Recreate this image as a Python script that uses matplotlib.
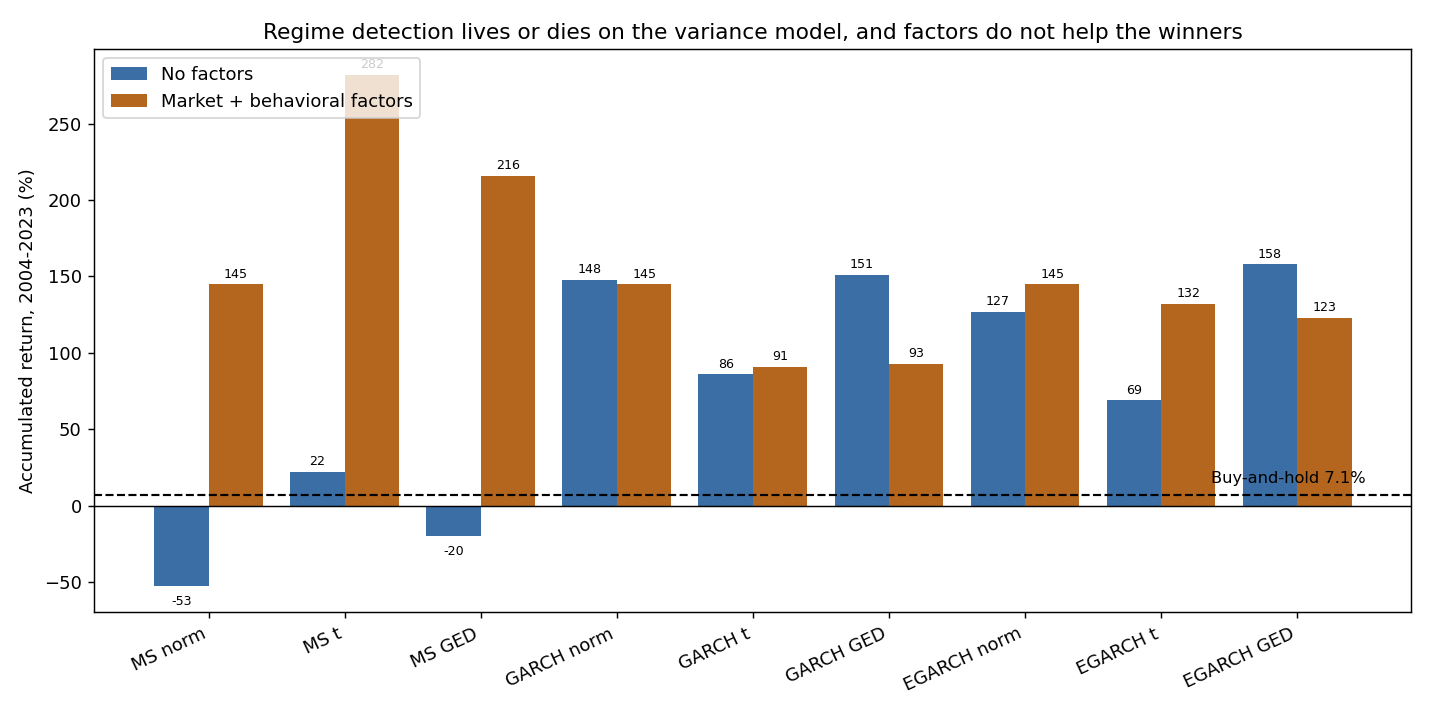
import matplotlib.pyplot as plt
import numpy as np

# Data
models = ['MS norm', 'MS t', 'MS GED', 'GARCH norm', 'GARCH t', 'GARCH GED',
          'EGARCH norm', 'EGARCH t', 'EGARCH GED']
no_factors = [-53, 22, -20, 148, 86, 151, 127, 69, 158]
with_factors = [145, 282, 216, 145, 91, 93, 145, 132, 123]
buy_hold = 7.1

x = np.arange(len(models))
width = 0.4

fig, ax = plt.subplots(figsize=(11, 5.5), dpi=130)
b1 = ax.bar(x - width / 2, no_factors, width, color='#3a6ea5', label='No factors')
b2 = ax.bar(x + width / 2, with_factors, width, color='#b4661f',
            label='Market + behavioral factors')

# value labels: positives just above, negatives a bit further below
pos_lbl = [f'{v:.0f}' if v >= 0 else '' for v in no_factors]
neg_lbl = [f'{v:.0f}' if v < 0 else '' for v in no_factors]
ax.bar_label(b1, labels=pos_lbl, padding=2, fontsize=7)
ax.bar_label(b1, labels=neg_lbl, padding=5, fontsize=7)
ax.bar_label(b2, fmt='%.0f', padding=2, fontsize=7)

ax.axhline(0, color='black', linewidth=0.8)
ax.axhline(buy_hold, color='black', linestyle='--', linewidth=1.2)
ax.text(len(models) - 0.5, buy_hold + 6, f'Buy-and-hold {buy_hold}%',
        ha='right', va='bottom', fontsize=9)

ax.set_xticks(x)
ax.set_xticklabels(models, rotation=25, ha='right')
ax.set_ylabel('Accumulated return, 2004-2023 (%)')
ax.set_title('Regime detection lives or dies on the variance model, '
             'and factors do not help the winners')
ax.legend(loc='upper left')

plt.subplots_adjust(left=0.066, right=0.987, top=0.931, bottom=0.144)
plt.savefig('out.png')
